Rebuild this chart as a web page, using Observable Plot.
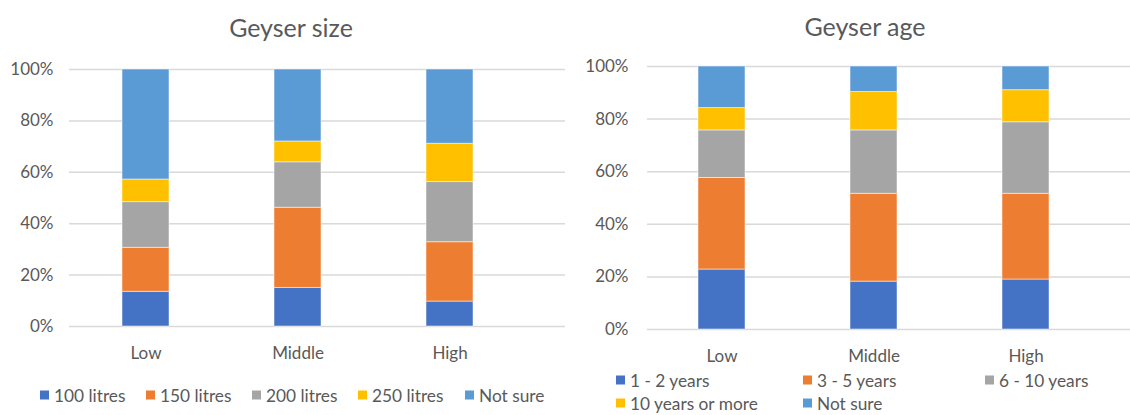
<!DOCTYPE html>
<html>
<head>
<meta charset="utf-8">
<script src="https://cdn.jsdelivr.net/npm/d3@7"></script>
<script src="https://cdn.jsdelivr.net/npm/@observablehq/plot@0.6"></script>
<style>
  html, body { margin: 0; padding: 0; background: #fff; }
  #root { position: relative; width: 1130px; height: 415px; overflow: hidden; font-family: Lato, "Open Sans", sans-serif; color: #595959; }
  .title { position: absolute; font-size: 25px; transform: translate(-50%, -50%); white-space: nowrap; }
  .panel { position: absolute; top: 0; }
  .leg { position: absolute; font-size: 17.3px; white-space: nowrap; transform: translateY(-50%); display: flex; align-items: center; }
  .sw { display: inline-block; width: 9px; height: 9px; margin-right: 5px; }
</style>
</head>
<body>
<div id="root"></div>
<script>
// ---- data ----
const categories = ["Low", "Middle", "High"];
const yTicks = [0, 0.2, 0.4, 0.6, 0.8, 1];

const sizeSeries = ["100 litres", "150 litres", "200 litres", "250 litres", "Not sure"];
const size100 = [13.5, 15.0, 9.7];
const size150 = [17.1, 31.2, 23.1];
const size200 = [17.8, 17.7, 23.4];
const size250 = [8.8, 8.1, 14.9];
const sizeNotSure = [42.8, 28.0, 28.9];

const ageSeries = ["1 - 2 years", "3 - 5 years", "6 - 10 years", "10 years or more", "Not sure"];
const age1to2 = [22.8, 18.2, 19.0];
const age3to5 = [34.8, 33.4, 32.6];
const age6to10 = [18.1, 24.1, 27.2];
const age10plus = [8.5, 14.6, 12.2];
const ageNotSure = [15.8, 9.7, 9.0];

const colors = ["#4472C4", "#ED7D31", "#A5A5A5", "#FFC000", "#5B9BD5"];

// ---- build tables ----
function table(series, arrays) {
  const rows = [];
  series.forEach((s, i) => {
    categories.forEach((c, j) => rows.push({category: c, series: s, value: arrays[i][j] / 100}));
  });
  return rows;
}
const sizeData = table(sizeSeries, [size100, size150, size200, size250, sizeNotSure]);
const ageData = table(ageSeries, [age1to2, age3to5, age6to10, age10plus, ageNotSure]);

const root = document.getElementById("root");

function chartWith(opts) {
  const height = 370;
  const chart = Plot.plot({
    width: 565,
    height,
    marginLeft: opts.marginLeft,
    marginRight: 0,
    marginTop: opts.marginTop,
    marginBottom: height - opts.zeroY,
    style: {fontFamily: "Lato, 'Open Sans', sans-serif", fontSize: "17px", color: "#595959", background: "transparent"},
    x: {type: "band", domain: categories, range: opts.xRange, paddingInner: 0.69, paddingOuter: 0.345, label: null},
    y: {domain: [0, 1], label: null},
    color: {domain: opts.series, range: colors},
    marks: [
      Plot.ruleY(yTicks, {stroke: "#d9d9d9", strokeWidth: 1.5}),
      Plot.barY(opts.data, Plot.stackY({x: "category", y: "value", fill: "series", stroke: "#ffffff", strokeOpacity: 0.5, strokeWidth: 1})),
      Plot.axisX({tickSize: 0, tickPadding: opts.xPad, fontSize: 17}),
      Plot.axisY({ticks: yTicks, tickFormat: d3.format(".0%"), tickSize: 0, tickPadding: opts.yPad, fontSize: 17})
    ]
  });
  const wrap = document.createElement("div");
  wrap.className = "panel";
  wrap.style.left = opts.left + "px";
  wrap.appendChild(chart);
  root.appendChild(wrap);
}

chartWith({data: sizeData, series: sizeSeries, left: 0, marginLeft: 69, marginTop: 69, zeroY: 326, xRange: [69.5, 525.5], xPad: 20, yPad: 16});
chartWith({data: ageData, series: ageSeries, left: 565, marginLeft: 82, marginTop: 66, zeroY: 329, xRange: [81, 537], xPad: 20, yPad: 19});

// ---- titles ----
function addTitle(text, x, y) {
  const d = document.createElement("div");
  d.className = "title";
  d.textContent = text;
  d.style.left = x + "px";
  d.style.top = y + "px";
  root.appendChild(d);
}
addTitle("Geyser size", 291, 27);
addTitle("Geyser age", 865, 26);

// ---- legends ----
function addLegend(items) {
  items.forEach(([label, color, x, y]) => {
    const d = document.createElement("div");
    d.className = "leg";
    d.style.left = x + "px";
    d.style.top = y + "px";
    const s = document.createElement("span");
    s.className = "sw";
    s.style.background = color;
    d.appendChild(s);
    d.appendChild(document.createTextNode(label));
    root.appendChild(d);
  });
}
const sizeLegX = [40, 146, 252, 358, 465];
addLegend(sizeSeries.map((s, i) => [s, colors[i], sizeLegX[i], 395]));
const ageLegPos = [[616, 380], [803, 380], [985, 380], [616, 403], [803, 403]];
addLegend(ageSeries.map((s, i) => [s, colors[i], ageLegPos[i][0], ageLegPos[i][1]]));
</script>
</body>
</html>
